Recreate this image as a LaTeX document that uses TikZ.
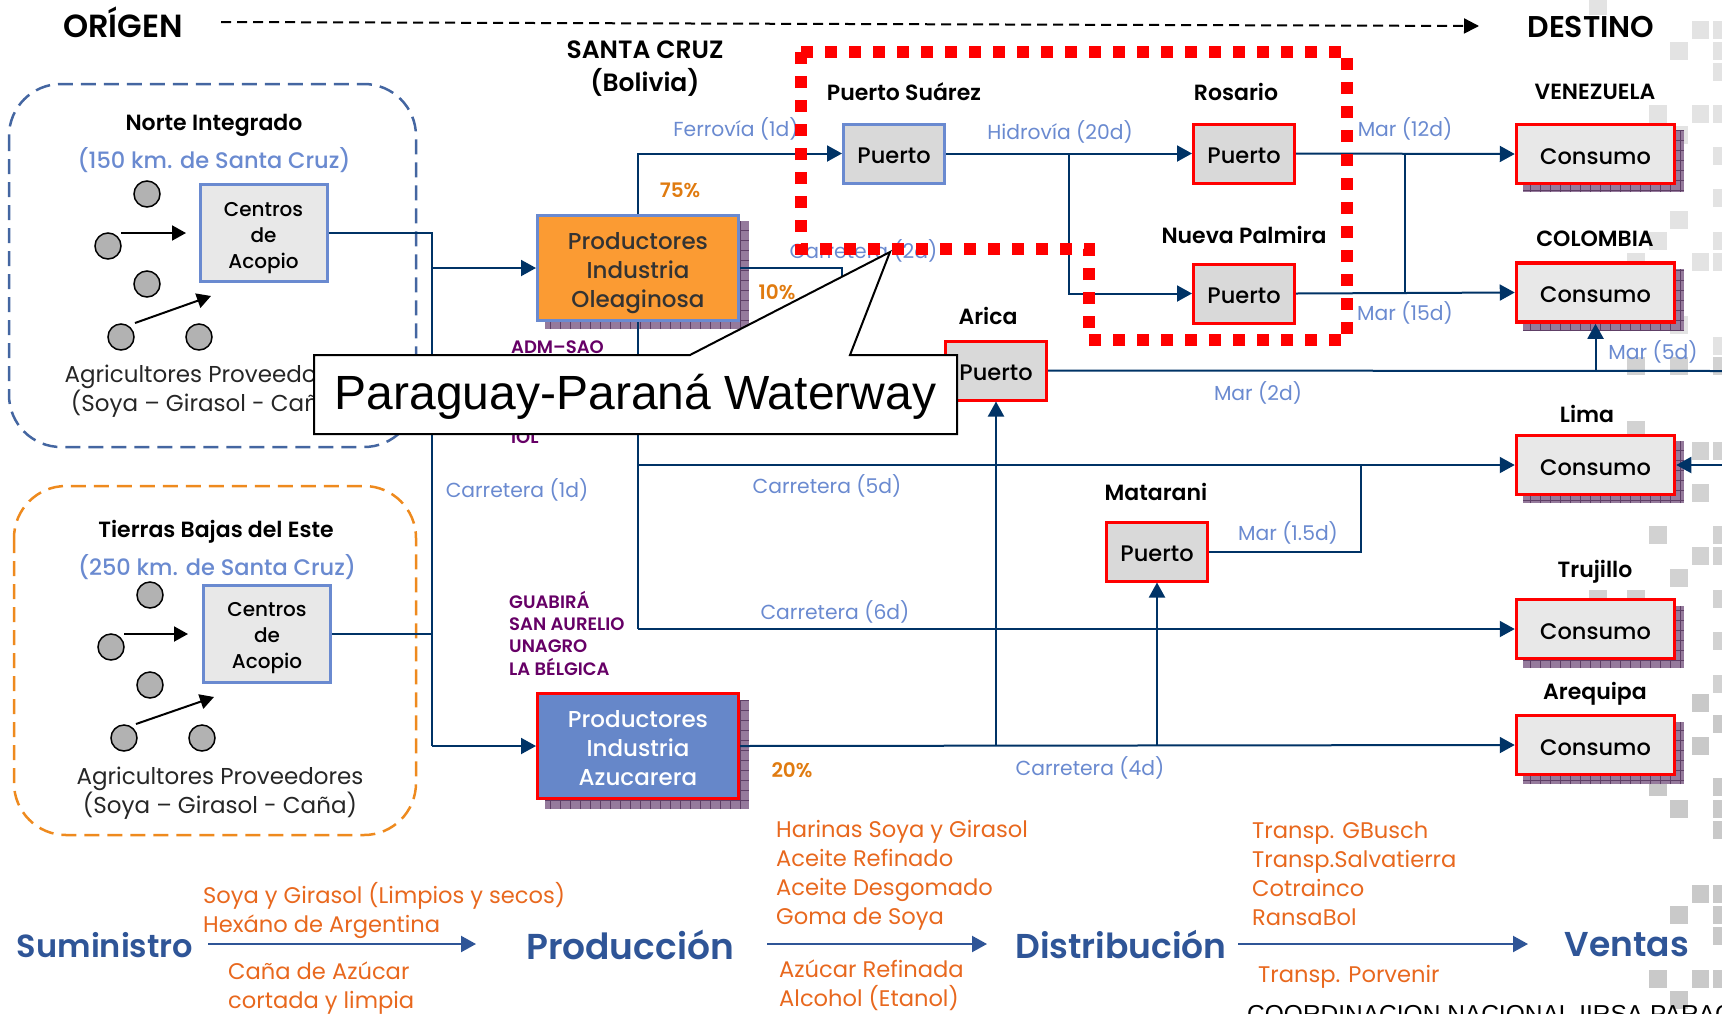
\documentclass[tikz,border=0pt]{standalone}
\usepackage{fontspec}
\usetikzlibrary{arrows.meta,calc}
\setmainfont{Poppins}
\newfontfamily\medf{Poppins Medium}
\newfontfamily\semf{Poppins SemiBold}
\newfontfamily\arialf{Liberation Sans}
\newcommand{\dropt}[1]{\rule{0pt}{#1pt}}
\definecolor{navy}{HTML}{003366}
\definecolor{lblue}{HTML}{6A8AD0}
\definecolor{tblue}{HTML}{2F5597}
\definecolor{ortext}{HTML}{E8681E}
\definecolor{orpct}{HTML}{E07B10}
\definecolor{purp}{HTML}{660066}
\definecolor{shad}{HTML}{957A9C}
\definecolor{shadl}{HTML}{5E3F66}
\definecolor{darktext}{HTML}{333333}
\definecolor{orbox}{HTML}{FB9B33}
\definecolor{azbox}{HTML}{6687C9}
\definecolor{zoneor}{HTML}{EE8A1E}
\tikzset{
  x=1pt,y=-1pt,
  conn/.style={draw=navy,line width=2pt},
  arr/.style={conn,-{Triangle[length=15pt,width=16pt]}},
  blackarr/.style={draw=black,line width=2pt,-{Triangle[length=14pt,width=15pt]}},
  bigarr/.style={draw=tblue,line width=2.2pt,-{Triangle[length=15pt,width=16pt]}},
  boxbase/.style={rectangle,inner sep=0pt,align=center,text=black,line width=3pt},
  puerto/.style={boxbase,fill=gray!30,draw=red,minimum width=101pt,minimum height=59pt,font=\medf\fontsize{22.5}{24}\selectfont},
  puertob/.style={puerto,draw=lblue},
  consumo/.style={boxbase,fill=gray!18,draw=red,line width=3.5pt,minimum width=158pt,minimum height=59pt,font=\medf\fontsize{22.5}{24}\selectfont},
  centros/.style={boxbase,fill=gray!18,draw=lblue,minimum width=127pt,minimum height=97pt,font=\medf\fontsize{20}{26}\selectfont},
  prod/.style={boxbase,minimum width=201pt,minimum height=105pt,font=\medf\fontsize{23}{29}\selectfont},
  agri/.style={circle,fill=gray!60,draw=black,line width=1.5pt,minimum size=26pt,inner sep=0pt},
  head/.style={inner sep=0pt,text=black,font=\semf\fontsize{22}{24}\selectfont},
  bighead/.style={inner sep=0pt,text=black,font=\semf\fontsize{30}{33}\selectfont,align=center},
  route/.style={inner sep=0pt,text=lblue,font=\fontsize{20.3}{24}\selectfont},
  pct/.style={inner sep=0pt,text=orpct,font=\semf\fontsize{20}{24}\selectfont},
  firm/.style={inner sep=0pt,text=purp,font=\semf\fontsize{18}{22.3}\selectfont,align=left,anchor=west},
  km/.style={inner sep=0pt,text=lblue,font=\medf\fontsize{22.5}{24}\selectfont},
  farm/.style={inner sep=0pt,text=black!85,font=\fontsize{23}{28.5}\selectfont,align=center},
  stage/.style={inner sep=0pt,text=tblue},
  goods/.style={inner sep=0pt,text=ortext,font=\fontsize{22.6}{29}\selectfont,align=left,anchor=west},
  zone/.style={draw,line width=2.5pt,dash pattern=on 15pt off 8pt,rounded corners=52pt},
  shadowfill/.style={fill=shad,draw=shadl,line width=0.7pt,step=10pt},
}
\newcommand{\shadowrect}[4]{\fill[shad] (#1,#2) rectangle (#3,#4);\draw[shadowfill] (#1,#2) grid (#3,#4);}
\begin{document}
\begin{tikzpicture}
\useasboundingbox (0,0) rectangle (1722,1013);
\clip (0,0) rectangle (1722,1013);
% decorative squares
\def\colA{1589}\def\colB{1627}\def\colC{1649}\def\colD{1670}\def\colE{1691.5}\def\colF{1713}
\foreach \c/\r in {\colA/-3,\colE/21,\colF/21,\colD/42,\colF/42,\colF/63,\colC/105,\colE/105,\colF/105,\colD/126,\colF/147,\colF/189,\colD/211,\colC/232,\colF/232,\colB/253,\colE/253,\colF/253,\colD/316,\colF/337}
  \fill[gray!22] (\c,\r) rectangle ++(17.5,17.5);
\foreach \c/\r in {\colB/357,\colD/357,\colF/357,\colB/421,\colE/442,\colF/442,\colE/484,\colC/526,\colF/526,\colE/547,\colF/547,\colD/569,\colA/590,\colB/590,\colF/590,\colF/632,\colF/675}
  \fill[gray!35] (\c,\r) rectangle ++(17.5,17.5);
\foreach \c/\r in {\colE/694,\colF/715,\colE/737,\colC/778,\colF/778,\colD/800,\colF/800,\colF/821,\colE/885,\colF/885,\colD/906,\colF/906,\colF/927,\colC/970,\colE/970,\colF/970,\colD/991}
  \fill[gray!42] (\c,\r) rectangle ++(17.5,17.5);
% zones
\draw[zone,draw=tblue!90] (9,84) rectangle (416,447);
\draw[zone,draw=zoneor] (14,486) rectangle (416,835);
% shadows
\shadowrect{545}{221}{749}{329}
\shadowrect{545}{700}{749}{809}
\shadowrect{1523}{130}{1684}{192}
\shadowrect{1523}{269}{1684}{331}
\shadowrect{1523}{441}{1684}{503}
\shadowrect{1523}{606}{1684}{668}
\shadowrect{1523}{722}{1684}{784}
% boxes
\node[centros] (cn) at (263.5,233) {\dropt{24}Centros\\de\\Acopio};
\node[centros] (cs) at (267,633.5) {\dropt{24}Centros\\de\\Acopio};
\node[prod,fill=orbox,draw=lblue,text=darktext] (ol) at (638,268) {\dropt{26.5}Productores\\Industria\\Oleaginosa};
\node[prod,fill=azbox,draw=red,text=white] (az) at (638,746) {\dropt{21.5}Productores\\Industria\\Azucarera};
\node[puertob] (ps) at (894,153.5) {\dropt{20.5}Puerto};
\node[puerto] (ro) at (1244,153.5) {\dropt{20.5}Puerto};
\node[puerto] (np) at (1244,293.5) {\dropt{20.5}Puerto};
\node[puerto] (ar) at (996,370.5) {\dropt{20.5}Puerto};
\node[puerto] (ma) at (1157,551.5) {\dropt{20.5}Puerto};
\node[consumo] (ve) at (1595.5,154) {\dropt{20.5}Consumo};
\node[consumo] (co) at (1595.5,292.5) {\dropt{20.5}Consumo};
\node[consumo] (li) at (1595.5,465) {\dropt{20.5}Consumo};
\node[consumo] (tr) at (1595.5,629) {\dropt{20.5}Consumo};
\node[consumo] (aq) at (1595.5,745) {\dropt{20.5}Consumo};
% coordinates for junctions and free ends
\coordinate (tt) at (432,233);
\coordinate (tb) at (432,746);
\coordinate (oleast) at (842,268);
\coordinate (hb) at (1069,153.5);
\coordinate (mj) at (1405,153.5);
\coordinate (rightA) at (1722,371);
\coordinate (rightL) at (1722,465);
\coordinate (oltr) at (638,629);
\coordinate (lj) at (1361,465);
\coordinate (oli) at (638,465);
% connectors
\draw[conn] (cn.east) -- (tt) -- (tb);
\draw[conn] (cs.east) -- (cs.east -| tt);
\draw[arr] (tt |- ol.west) -- (ol.west);
\draw[arr] (tb) -- (az.west);
\draw[arr] (ol.north) |- (ps.west);
\draw[conn] (ol.south) -- (oltr);
\draw[arr] (oltr) -- (tr.west);
\draw[arr] (oli) -- (li.west);
\draw[arr] (ps.east) -- (ro.west);
\draw[arr] (hb) |- (np.west);
\draw[arr] (ro.east) -- (ve.west);
\draw[arr] (np.east) -- (co.west);
\draw[conn] (mj) -- (mj |- np.east);
\draw[conn] (ol.east) -- (oleast) |- (ar.west);
\draw[conn] (ar.east) -- (rightA);
\draw[arr] (co.south |- rightA) -- (co.south);
\draw[arr] (rightL) -- (li.east);
\draw[conn] (ma.east) -| (lj);
\draw[arr] (az.east) -- (aq.west);
\draw[arr] (ar.south |- az.east) -- (ar.south);
\draw[arr] (ma.south |- az.east) -- (ma.south);
% header
\coordinate (dashS) at (221,22);
\coordinate (dashE) at (1479,26);
\draw[draw=black,line width=2pt,dash pattern=on 10pt off 6pt,-{Triangle[length=15pt,width=15pt]}] (dashS) -- (dashE);
\node[bighead,font=\semf\fontsize{32}{33}\selectfont] (orig) at (123,22) {ORÍGEN};
\node[bighead] (dest) at (1591,27) {DESTINO};
\node[head,font=\semf\fontsize{25}{33}\selectfont,align=center] (sc) at (645,68.5) {SANTA CRUZ\\(Bolivia)};
% zone texts
\node[head] (t1) at (214,125) {Norte Integrado};
\node[km] (k1) at (214,160) {(150 km. de Santa Cruz)};
\node[head] (t2) at (216,532) {Tierras Bajas del Este};
\node[km] (k2) at (217,567) {(250 km. de Santa Cruz)};
\node[farm] (f1) at (208,391) {Agricultores Proveedores\\(Soya – Girasol - Caña)};
\node[farm] (f2) at (220,793) {Agricultores Proveedores\\(Soya – Girasol - Caña)};
% farmers north
\node[agri] (a1) at (147,194) {};
\node[agri] (a2) at (108,246) {};
\node[agri] (a3) at (147,284) {};
\node[agri] (a4) at (121,337) {};
\node[agri] (a5) at (199,337) {};
\coordinate (n1s) at (121,233); \coordinate (n1e) at (186,233);
\coordinate (n2s) at (135,323); \coordinate (n2e) at (211,296);
\draw[blackarr] (n1s) -- (n1e);
\draw[blackarr] (n2s) -- (n2e);
% farmers south
\node[agri] (b1) at (150,595) {};
\node[agri] (b2) at (111,647) {};
\node[agri] (b3) at (150,685) {};
\node[agri] (b4) at (124,738) {};
\node[agri] (b5) at (202,738) {};
\coordinate (s1s) at (124,634); \coordinate (s1e) at (188,634);
\coordinate (s2s) at (136,724); \coordinate (s2e) at (214,697);
\draw[blackarr] (s1s) -- (s1e);
\draw[blackarr] (s2s) -- (s2e);
% destination and port labels
\node[head] (lps) at (904,92) {Puerto Suárez};
\node[head] (lro) at (1236,92) {Rosario};
\node[head] (lnp) at (1244,235) {Nueva Palmira};
\node[head] (lar) at (988,316) {Arica};
\node[head] (lma) at (1156,492) {Matarani};
\node[head] (lve) at (1595,92) {VENEZUELA};
\node[head] (lco) at (1595,239) {COLOMBIA};
\node[head] (lli) at (1587,414) {Lima};
\node[head] (ltr) at (1595,572) {Trujillo};
\node[head] (laq) at (1595,694) {Arequipa};
% route labels
\node[route] (r1) at (736,129) {Ferrovía (1d)};
\node[route] (r2) at (1060,132) {Hidrovía (20d)};
\node[route] (r3) at (1405,129) {Mar (12d)};
\node[route] (r4) at (1405,313) {Mar (15d)};
\node[route] (r5) at (1653,352) {Mar (5d)};
\node[route] (r6) at (1258,393) {Mar (2d)};
\node[route] (r7) at (827,486) {Carretera (5d)};
\node[route] (r8) at (517,490) {Carretera (1d)};
\node[route] (r9) at (835,612) {Carretera (6d)};
\node[route] (r10) at (863.5,251) {Carretera (2d)};
\node[route] (r11) at (1090,768) {Carretera (4d)};
\node[route] (r12) at (1288,533) {Mar (1.5d)};
% percentages
\node[pct] (p1) at (680,190) {75\%};
\node[pct] (p2) at (777,292) {10\%};
\node[pct] (p3) at (672,362) {15\%};
\node[pct] (p4) at (792,770) {20\%};
% companies
\node[firm] (fa) at (511,347) {ADM–SAO};
\node[firm] (fb) at (511,437) {IOL};
\node[firm] (fc) at (509,633) {GUABIRÁ\\SAN AURELIO\\UNAGRO\\LA BÉLGICA};
% red dotted outline
\draw[red,line width=12pt,dash pattern=on 12pt off 12pt] (801,52) -- (1347,52) -- (1347,340) -- (1089,340) -- (1089,249) -- (801,249) -- cycle;
% callout
\coordinate (cA) at (314,355); \coordinate (cB) at (690,355); \coordinate (cTip) at (890,252);
\coordinate (cC) at (850,355); \coordinate (cD) at (957,355); \coordinate (cE) at (957,434); \coordinate (cF) at (314,434);
\draw[fill=white,draw=black,line width=2pt] (cA) -- (cB) -- (cTip) -- (cC) -- (cD) -- (cE) -- (cF) -- cycle;
\node[inner sep=0pt,text=black,font=\arialf\fontsize{48}{56}\selectfont] (wat) at (635.5,397) {Paraguay-Paraná Waterway};
% bottom band
\node[stage,font=\semf\fontsize{32}{36}\selectfont] (s1) at (105,945) {Suministro};
\node[stage,font=\semf\fontsize{36}{36}\selectfont] (s2) at (630,945) {Producción};
\node[stage,font=\semf\fontsize{34.5}{36}\selectfont] (s3) at (1121,945) {Distribución};
\node[stage,font=\semf\fontsize{34.5}{36}\selectfont] (s4) at (1627,945) {Ventas};
\coordinate (b1s) at (208,944); \coordinate (b1e) at (476,944);
\coordinate (b2s) at (767,944); \coordinate (b2e) at (987,944);
\coordinate (b3s) at (1238,944); \coordinate (b3e) at (1528,944);
\draw[bigarr] (b1s) -- (b1e);
\draw[bigarr] (b2s) -- (b2e);
\draw[bigarr] (b3s) -- (b3e);
\node[goods] (g1) at (203,910.5) {Soya y Girasol (Limpios y secos)\\Hexáno de Argentina};
\node[goods] (g2) at (228,988.5) {Caña de Azúcar\\cortada y limpia};
\node[goods] (g3) at (776,875.5) {Harinas Soya y Girasol\\Aceite Refinado\\Aceite Desgomado\\Goma de Soya};
\node[goods] (g4) at (779,985.5) {Azúcar Refinada\\Alcohol (Etanol)};
\node[goods] (g5) at (1252,873.5) {Transp. GBusch\\Transp.Salvatierra\\Cotrainco\\RansaBol};
\node[goods] (g6) at (1258,977) {Transp. Porvenir};
\node[inner sep=0pt,anchor=base west,text=black,font=\arialf\fontsize{24.5}{26}\selectfont] (foot) at (1247,1022) {COORDINACION NACIONAL IIRSA PARAGUAY};
\end{tikzpicture}
\end{document}
